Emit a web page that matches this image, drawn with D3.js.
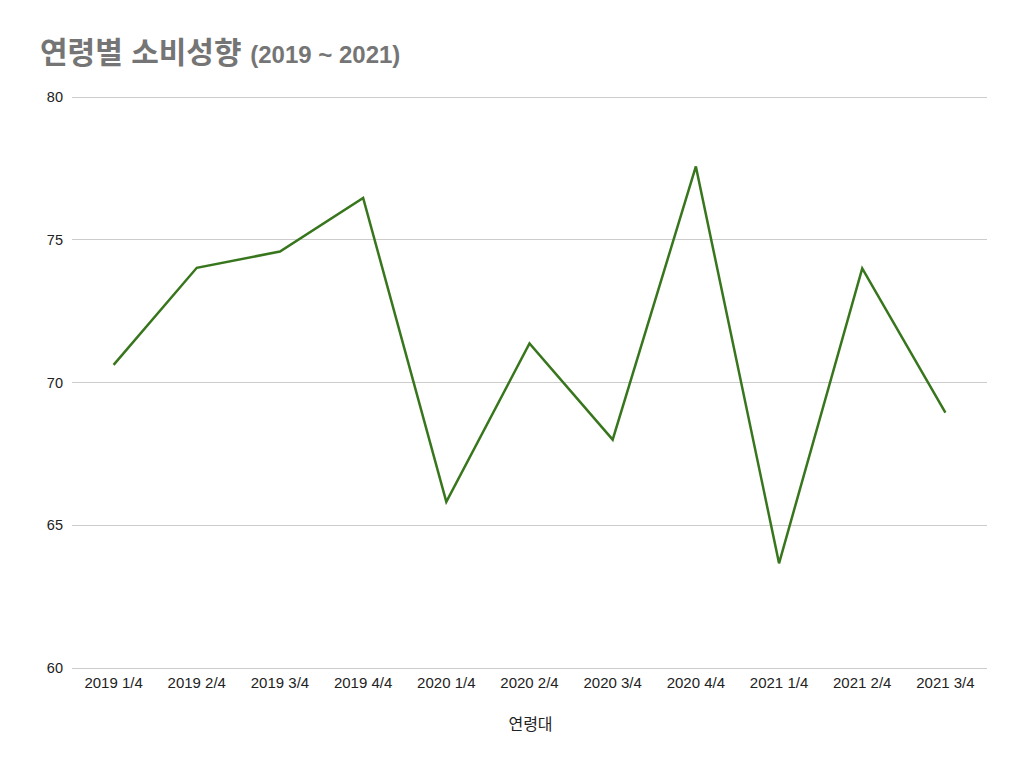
<!DOCTYPE html>
<html><head><meta charset="utf-8">
<script src="https://cdn.jsdelivr.net/npm/d3@7"></script>
<style>body{margin:0;background:#fff}svg{display:block}</style>
</head><body><svg id="c" width="1024" height="767"></svg>
<script>
const categories = ["2019 1/4","2019 2/4","2019 3/4","2019 4/4","2020 1/4","2020 2/4","2020 3/4","2020 4/4","2021 1/4","2021 2/4","2021 3/4"];
const values = [70.6, 74.0, 74.57, 76.45, 65.8, 71.35, 67.98, 77.55, 63.65, 73.98, 68.93];
const yTicks = [60, 65, 70, 75, 80];
const titleKo = "연령별 소비성향";
const titleRange = "(2019 ~ 2021)";
const xTitle = "연령대";

const svg = d3.select("#c");
const font = "Arial, 'Liberation Sans', 'Noto Sans CJK KR', sans-serif";
const L = 72, R = 987, T = 96.5, B = 667.5;
const x = d3.scaleBand().domain(categories).range([L, R]);
const y = d3.scaleLinear().domain([60, 80]).range([B, T]);

svg.append("rect").attr("width",1024).attr("height",767).attr("fill","#fff");

svg.append("g").selectAll("line").data(yTicks).join("line")
  .attr("x1", L).attr("x2", R)
  .attr("y1", d => Math.round(y(d)) + 0.5).attr("y2", d => Math.round(y(d)) + 0.5)
  .attr("stroke", "#cccccc").attr("stroke-width", 1);

svg.append("g").selectAll("text").data(yTicks).join("text")
  .attr("x", 63).attr("y", d => y(d) + 5.5)
  .attr("text-anchor", "end").attr("font-family", font).attr("font-size", 14.5)
  .attr("fill", "#222").text(d => d);

svg.append("g").selectAll("text").data(categories).join("text")
  .attr("x", d => x(d) + x.bandwidth()/2).attr("y", 688)
  .attr("text-anchor", "middle").attr("font-family", font).attr("font-size", 15)
  .attr("fill", "#222").text(d => d);

const line = d3.line().x((d,i) => x(categories[i]) + x.bandwidth()/2).y(d => y(d));
svg.append("path").datum(values).attr("d", line)
  .attr("fill", "none").attr("stroke", "#38761d").attr("stroke-width", 2.5)
  .attr("stroke-linejoin", "miter");

const t = svg.append("text").attr("x", 40).attr("y", 63)
  .attr("font-family", font).attr("font-weight", "bold").attr("fill", "#757575");
t.append("tspan").attr("font-size", 30).text(titleKo);
t.append("tspan").attr("font-size", 24).attr("dx", 2).text(" " + titleRange);

svg.append("text").attr("x", (L+R)/2 + 1).attr("y", 730)
  .attr("text-anchor", "middle").attr("font-family", font).attr("font-size", 16)
  .attr("fill", "#222").text(xTitle);
</script></body></html>
